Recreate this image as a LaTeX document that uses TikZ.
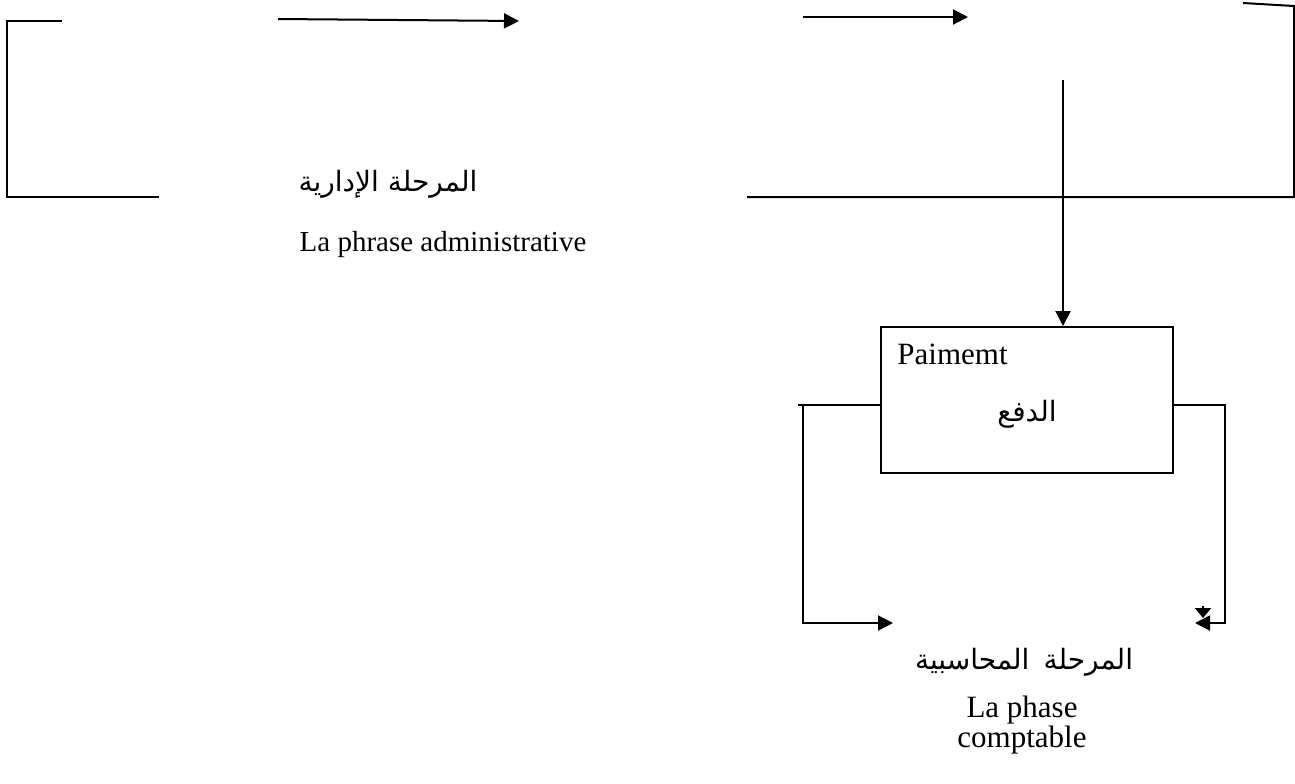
\documentclass[tikz,border=0pt]{standalone}
\usepackage{fontspec}
\setmainfont{Liberation Serif}
\newfontfamily\arabicfont[Script=Arabic]{DejaVu Sans}
\TeXXeTstate=1
\usetikzlibrary{%
        arrows.meta,
        positioning
    }
\tikzset{%
    wire/.style={line width=1pt},
    flow/.style={line width=1pt, -{Triangle[length=7.5pt, width=7.5pt]}},
    latin/.style={font=\fontsize{14.5}{17}\selectfont, inner sep=0pt},
    biglatin/.style={font=\fontsize{15.5}{18}\selectfont, inner sep=0pt},
    arabic/.style={font=\arabicfont\fontsize{14}{17}\selectfont, inner sep=0pt},
    paybox/.style={draw, line width=1pt, minimum width=146pt, minimum height=73pt, inner sep=0pt}
}

\begin{document}
\begin{tikzpicture}[x=0.5pt, y=-0.5pt]
    \useasboundingbox (0, 0) rectangle (1295, 783);

    % Administrative phase
    \coordinate (ltop) at (62, 21);
    \coordinate (lcorner) at (7, 21);
    \coordinate (lbottom) at (159, 197);
    \draw[wire] (ltop) -- (lcorner) |- (lbottom);
    \node[arabic] (adminar) at (388, 184) {\beginR المرحلة الإدارية\endR};
    \node[latin] (adminfr) at (443, 245) {La phrase administrative};

    % Arrows on top
    \coordinate (afrom) at (278, 19);
    \coordinate (ato) at (519, 21);
    \coordinate (bfrom) at (803, 17);
    \coordinate (bto) at (968, 17);
    \draw[flow] (afrom) -- (ato);
    \draw[flow] (bfrom) -- (bto);

    % Right bracket
    \coordinate (rtop) at (1243, 3);
    \coordinate (rtopend) at (1294, 6);
    \coordinate (rbottom) at (747, 197);
    \draw[wire] (rtop) -- (rtopend) |- (rbottom);

    % Payment
    \node[paybox] (pay) at (1027, 400) {};
    \node[biglatin, anchor=west] (paylat) at (897, 354) {Paimemt};
    \node[arabic] (payar) at (1027, 414) {\beginR الدفع\endR};
    \coordinate (vtop) at (1063, 80);
    \draw[flow] (vtop) -- (vtop |- pay.north);

    % Accounting phase
    \node[arabic] (accar) at (1024, 662) {\beginR المرحلة\hspace{0.5em}المحاسبية\endR};
    \node[biglatin] (accfr1) at (1022, 710) {La phase};
    \node[biglatin] (accfr2) at (1022, 740) {comptable};

    % Connectors to the accounting phase
    \coordinate (lstub) at (798, 405);
    \coordinate (lbend) at (803, 405);
    \coordinate (lend) at (893, 623);
    \draw[wire] (pay.west |- lstub) -- (lstub);
    \draw[flow] (lbend) |- (lend);
    \coordinate (rbend) at (1225, 405);
    \coordinate (rend) at (1195, 623);
    \draw[flow] (pay.east |- rbend) -- (rbend) |- (rend);
    \coordinate (dfrom) at (1203, 606);
    \coordinate (dto) at (1203, 618);
    \draw[line width=1pt, -{Triangle[length=5pt, width=8pt]}] (dfrom) -- (dto);

\end{tikzpicture}
\end{document}
